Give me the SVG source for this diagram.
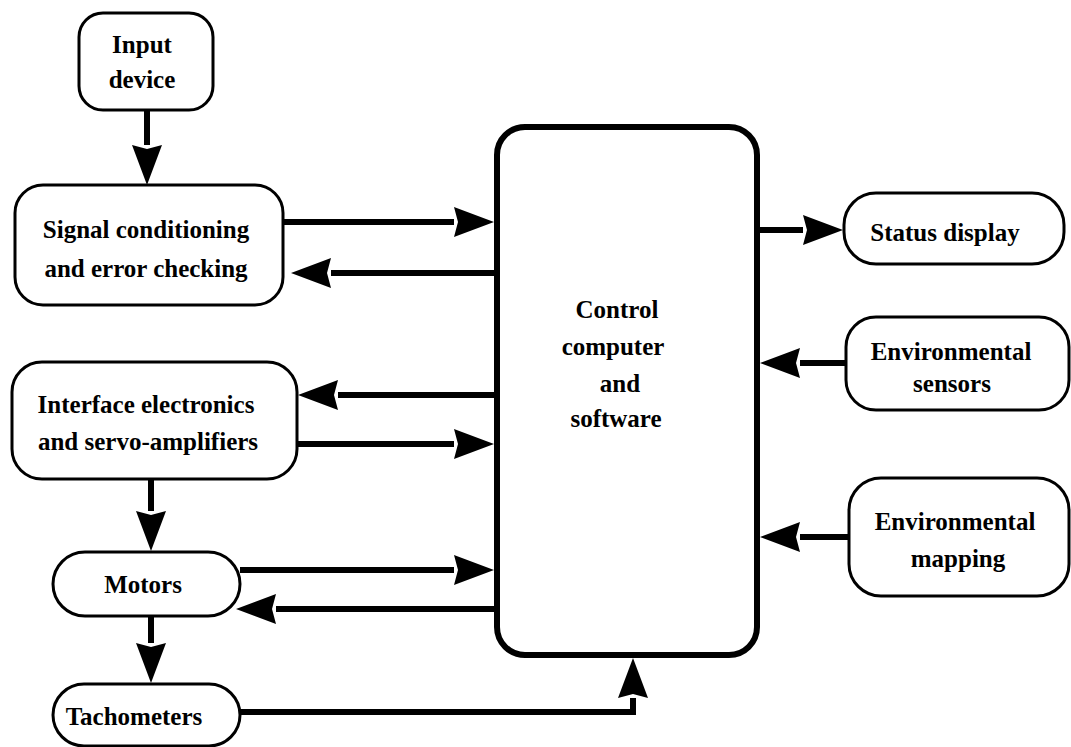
<svg xmlns="http://www.w3.org/2000/svg" width="1071" height="747" viewBox="0 0 1071 747">
<defs>
<style>
.box{fill:#fff;stroke:#000;stroke-width:3}
.ctl{fill:#fff;stroke:#000;stroke-width:6}
.lbl{font-family:"Liberation Serif","Times New Roman",serif;font-weight:bold;font-size:25px;fill:#000;text-anchor:middle}
.con{fill:none;stroke:#000;stroke-width:6;marker-end:url(#ah)}
</style>
<marker id="ah" markerUnits="userSpaceOnUse" markerWidth="42" markerHeight="32" refX="0" refY="15" orient="auto" viewBox="0 0 42 30">
<path d="M0,0 L40,15 L0,30 L4,15 z" fill="#000"/>
</marker>
</defs>
<rect width="1071" height="747" fill="#fff"/>
<g id="connectors">
<path class="con" d="M147,110 V145"/>
<path class="con" d="M283,222 H454"/>
<path class="con" d="M494,273 H331"/>
<path class="con" d="M494,395 H338"/>
<path class="con" d="M297,444 H454"/>
<path class="con" d="M151,479 V511"/>
<path class="con" d="M240,570 H454"/>
<path class="con" d="M494,609 H276"/>
<path class="con" d="M151,616 V643"/>
<path class="con" d="M240,712 H633 V698"/>
<path class="con" d="M760,230 H803"/>
<path class="con" d="M846,363 H800"/>
<path class="con" d="M849,537 H800"/>
</g>
<g id="control">
<rect class="ctl" x="497" y="127" width="260" height="528" rx="28"/>
<text class="lbl" x="617" y="318">Control</text>
<text class="lbl" x="613" y="355">computer</text>
<text class="lbl" x="620" y="392">and</text>
<text class="lbl" x="616" y="427">software</text>
</g>
<g id="input-device">
<rect class="box" x="79" y="13" width="134" height="97" rx="24"/>
<text class="lbl" x="142" y="53">Input</text>
<text class="lbl" x="142" y="88">device</text>
</g>
<g id="signal-conditioning">
<rect class="box" x="15" y="185" width="268" height="120" rx="28"/>
<text class="lbl" x="146" y="238">Signal conditioning</text>
<text class="lbl" x="146" y="277">and error checking</text>
</g>
<g id="interface-electronics">
<rect class="box" x="12" y="362" width="285" height="117" rx="30"/>
<text class="lbl" x="146" y="413">Interface electronics</text>
<text class="lbl" x="148" y="450">and servo-amplifiers</text>
</g>
<g id="motors">
<rect class="box" x="53" y="552" width="187" height="64" rx="32"/>
<text class="lbl" x="143" y="593">Motors</text>
</g>
<g id="tachometers">
<rect class="box" x="53" y="684" width="187" height="62" rx="31"/>
<text class="lbl" x="134" y="725">Tachometers</text>
</g>
<g id="status-display">
<rect class="box" x="844" y="193" width="220" height="71" rx="32"/>
<text class="lbl" x="945" y="241">Status display</text>
</g>
<g id="environmental-sensors">
<rect class="box" x="846" y="317" width="223" height="93" rx="30"/>
<text class="lbl" x="951" y="360">Environmental</text>
<text class="lbl" x="952" y="392">sensors</text>
</g>
<g id="environmental-mapping">
<rect class="box" x="849" y="478" width="220" height="118" rx="32"/>
<text class="lbl" x="955" y="530">Environmental</text>
<text class="lbl" x="958" y="567">mapping</text>
</g>
</svg>
